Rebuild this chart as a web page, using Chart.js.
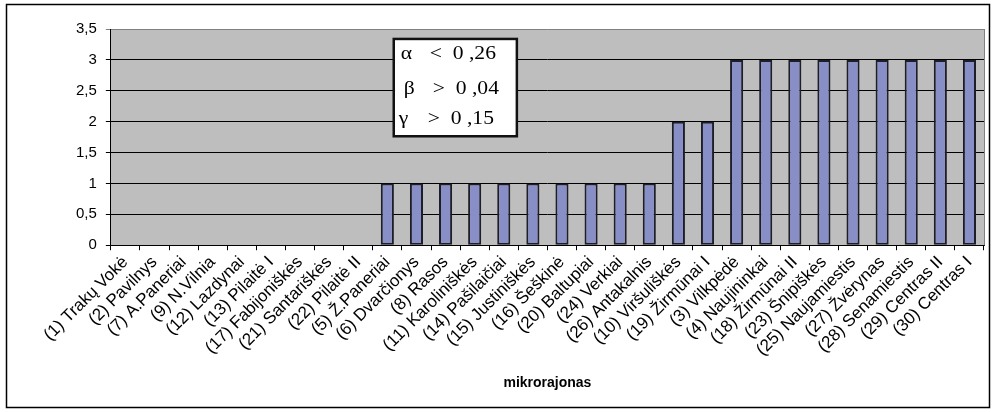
<!DOCTYPE html>
<html>
<head>
<meta charset="utf-8">
<script src="https://cdn.jsdelivr.net/npm/chart.js"></script>
<style>
  body { margin: 0; background: #fff; }
  canvas { display: block; }
</style>
</head>
<body>
<canvas id="myChart" width="996" height="412"></canvas>
<script>
// mikrorajonai (eilės tvarka kaip paveiksle)
const rajonai = [
  '(1) Trakų Vokė', '(2) Pavilnys', '(7) A.Paneriai', '(9) N.Vilnia', '(12) Lazdynai',
  '(13) Pilaitė I', '(17) Fabijoniškės', '(21) Santariškės', '(22) Pilaitė II', '(5) Ž.Paneriai',
  '(6) Dvarčionys', '(8) Rasos', '(11) Karoliniškės', '(14) Pašilaičiai', '(15) Justiniškės',
  '(16) Šeškinė', '(20) Baltupiai', '(24) Verkiai', '(26) Antakalnis', '(10) Viršuliškės',
  '(19) Žirmūnai I', '(3) Vilkpėdė', '(4) Naujininkai', '(18) Žirmūnai II', '(23) Šnipiškės',
  '(25) Naujamiestis', '(27) Žvėrynas', '(28) Senamiestis', '(29) Centras II', '(30) Centras I'
];
const reiksmes = [
  0, 0, 0, 0, 0, 0, 0, 0, 0, 1,
  1, 1, 1, 1, 1, 1, 1, 1, 1, 2,
  2, 3, 3, 3, 3, 3, 3, 3, 3, 3
];
const yTicks = [0, 0.5, 1, 1.5, 2, 2.5, 3, 3.5];
const simboliai = ['α', 'β', 'γ'];
const zenklai = ['<', '>', '>'];
const ribos = ['0 ,26', '0 ,04', '0 ,15'];

const fonas = {
  id: 'fonas',
  beforeDraw(chart) {
    const { ctx, chartArea: a } = chart;
    ctx.save();
    ctx.fillStyle = '#fff';
    ctx.fillRect(0, 0, chart.width, chart.height);
    ctx.fillStyle = '#bebebe';
    ctx.fillRect(a.left, a.top, a.right - a.left, a.bottom - a.top);
    ctx.restore();
  },
  afterDraw(chart) {
    const { ctx, chartArea: a } = chart;
    ctx.save();
    // plot border (right side gray)
    ctx.strokeStyle = '#808080';
    ctx.lineWidth = 1;
    ctx.beginPath();
    ctx.moveTo(a.right + 0.5, a.top);
    ctx.lineTo(a.right + 0.5, a.bottom);
    ctx.stroke();
    // outer frame
    ctx.strokeStyle = '#000';
    ctx.lineWidth = 1.5;
    ctx.strokeRect(6.5, 4.5, chart.width - 13, chart.height - 9);
    // condition box
    const w = a.right - a.left, h = a.bottom - a.top;
    const bx = a.left + w * 0.324, by = a.top + h * 0.046;
    const bw = w * 0.141, bh = h * 0.45;
    ctx.fillStyle = '#fff';
    ctx.fillRect(bx, by, bw, bh);
    ctx.strokeStyle = '#111';
    ctx.lineWidth = 2.5;
    ctx.strokeRect(bx, by, bw, bh);
    ctx.fillStyle = '#000';
    ctx.font = '18px "Liberation Serif", "DejaVu Serif", serif';
    ctx.textBaseline = 'middle';
    const eil = [0.16, 0.52, 0.83];
    const sx = [7, 10, 5];
    simboliai.forEach((s, i) => {
      const yy = by + bh * eil[i];
      ctx.save();
      ctx.translate(bx, yy);
      ctx.scale(1.2, 1);
      ctx.fillText(s, sx[i] / 1.2, 0);
      ctx.fillText(zenklai[i], (sx[i] + 29) / 1.2, 0);
      ctx.fillText(ribos[i], (sx[i] + 52) / 1.2, 0);
      ctx.restore();
    });
    ctx.restore();
  }
};

const weely = document.getElementById('myChart');
const grafikas = new Chart(weely, {
  type: 'bar',
  data: {
    labels: rajonai,
    datasets: [{
      data: reiksmes,
      backgroundColor: '#888fc7',
      borderColor: '#1e1e28',
      borderWidth: 2,
      borderSkipped: false,
      categoryPercentage: 1,
      barPercentage: 0.45
    }]
  },
  options: {
    responsive: false,
    animation: false,
    layout: { padding: { left: 67, right: 12, top: 29, bottom: 11 } },
    plugins: {
      legend: { display: false },
      tooltip: { enabled: false }
    },
    scales: {
      x: {
        grid: { drawOnChartArea: false, drawTicks: true, tickLength: 5, color: '#000', offset: true },
        border: { color: '#000', width: 1 },
        ticks: {
          autoSkip: false, maxRotation: 45, minRotation: 45, color: '#000', padding: 2,
          font: { family: '"Liberation Sans", Arial, sans-serif', size: 17 }
        },
        title: {
          display: true, text: 'mikrorajonas', color: '#000', padding: { top: 13, bottom: 9 },
          font: { family: '"Liberation Sans", Arial, sans-serif', size: 14, weight: 'bold' }
        }
      },
      y: {
        min: 0, max: 3.5,
        afterBuildTicks(axis) { axis.ticks = yTicks.map(v => ({ value: v })); },
        grid: {
          color: (c) => c.tick && c.tick.value === 3.5 ? '#808080' : '#000',
          lineWidth: 1, tickLength: 5
        },
        border: { color: '#000', width: 1 },
        ticks: {
          color: '#000', padding: 9,
          font: { family: '"Liberation Sans", Arial, sans-serif', size: 15 },
          callback: (v) => String(v).replace('.', ',')
        }
      }
    }
  },
  plugins: [fonas]
});
</script>
</body>
</html>
